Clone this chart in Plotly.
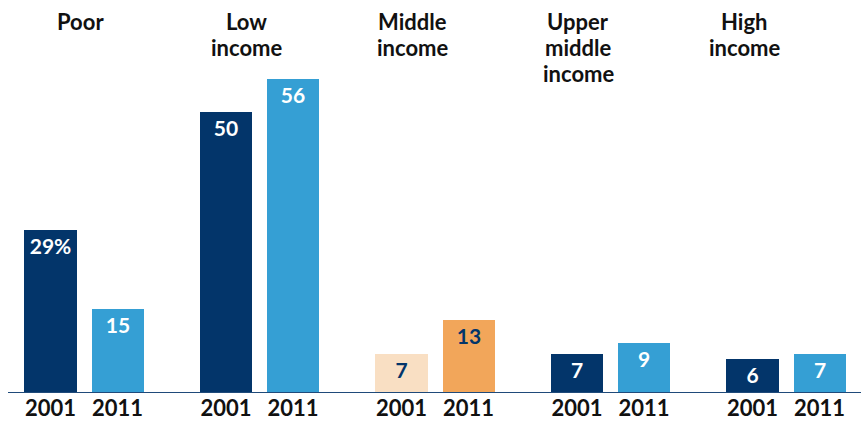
import plotly.graph_objects as go

# Share of population by income class, 2001 vs 2011
groups = ["Poor", "Low<br>income", "Middle<br>income", "Upper<br>middle<br>income", "High<br>income"]
years = ["2001", "2011"]
values_2001 = [29, 50, 7, 7, 6]
values_2011 = [15, 56, 13, 9, 7]
labels_2001 = ["29%", "50", "7", "7", "6"]
labels_2011 = ["15", "56", "13", "9", "7"]

NAVY = "#03356a"
SKY = "#359fd4"
PEACH = "#f9dfc3"
ORANGE = "#f2a65a"
FONT = "Lato"

colors_2001 = [PEACH if g.startswith("Middle") else NAVY for g in groups]
colors_2011 = [ORANGE if g.startswith("Middle") else SKY for g in groups]
text_2001 = [NAVY if g.startswith("Middle") else "white" for g in groups]
text_2011 = [NAVY if g.startswith("Middle") else "white" for g in groups]

OFFSET = 0.191   # half distance between the two bars of a group
WIDTH = 0.297    # bar width in group units

idx = list(range(len(groups)))
x_2001 = [i - OFFSET for i in idx]
x_2011 = [i + OFFSET for i in idx]

fig = go.Figure()
for xs, vals, labs, cols, tcols in [
    (x_2001, values_2001, labels_2001, colors_2001, text_2001),
    (x_2011, values_2011, labels_2011, colors_2011, text_2011),
]:
    fig.add_trace(go.Bar(
        x=xs, y=vals, width=WIDTH,
        marker=dict(color=cols, line=dict(width=0)),
        text=labs, textposition="inside", insidetextanchor="end",
        textangle=0, constraintext="none",
        textfont=dict(family=FONT, size=21, color=tcols, weight="bold"),
        hoverinfo="skip",
    ))

tickvals = [x for pair in zip(x_2001, x_2011) for x in pair]
ticktext = [y for _ in groups for y in years]

# Group headings above the bars, one annotation per line for tight spacing
TITLE_STEP = 0.946
TITLE_START = -0.023
LINE_GAP = 26
annotations = []
for i, g in zip(idx, groups):
    for k, line in enumerate(g.split("<br>")):
        annotations.append(dict(
            x=TITLE_START + i * TITLE_STEP, y=1, xref="x", yref="paper",
            text=line, showarrow=False, xanchor="center", yanchor="middle",
            yshift=-(21 + LINE_GAP * k),
            font=dict(family=FONT, size=22, color="#111111", weight="bold"),
        ))

fig.update_layout(
    width=861, height=428,
    margin=dict(l=0, r=0, t=0, b=35),
    paper_bgcolor="white", plot_bgcolor="white",
    showlegend=False,
    bargap=0,
    annotations=annotations,
    xaxis=dict(range=[-0.479, 4.427], tickvals=tickvals, ticktext=ticktext,
               showgrid=False, zeroline=False, showline=False, ticks="",
               tickfont=dict(family=FONT, size=22, color="#111111", weight="bold"),
               fixedrange=True),
    yaxis=dict(range=[0, 70.05], visible=False, fixedrange=True),
    shapes=[dict(type="line", xref="paper", yref="y", x0=8 / 861, x1=1, y0=0, y1=0,
                 line=dict(color="#1f4a7a", width=2))],
)

fig.write_html("out.html")
